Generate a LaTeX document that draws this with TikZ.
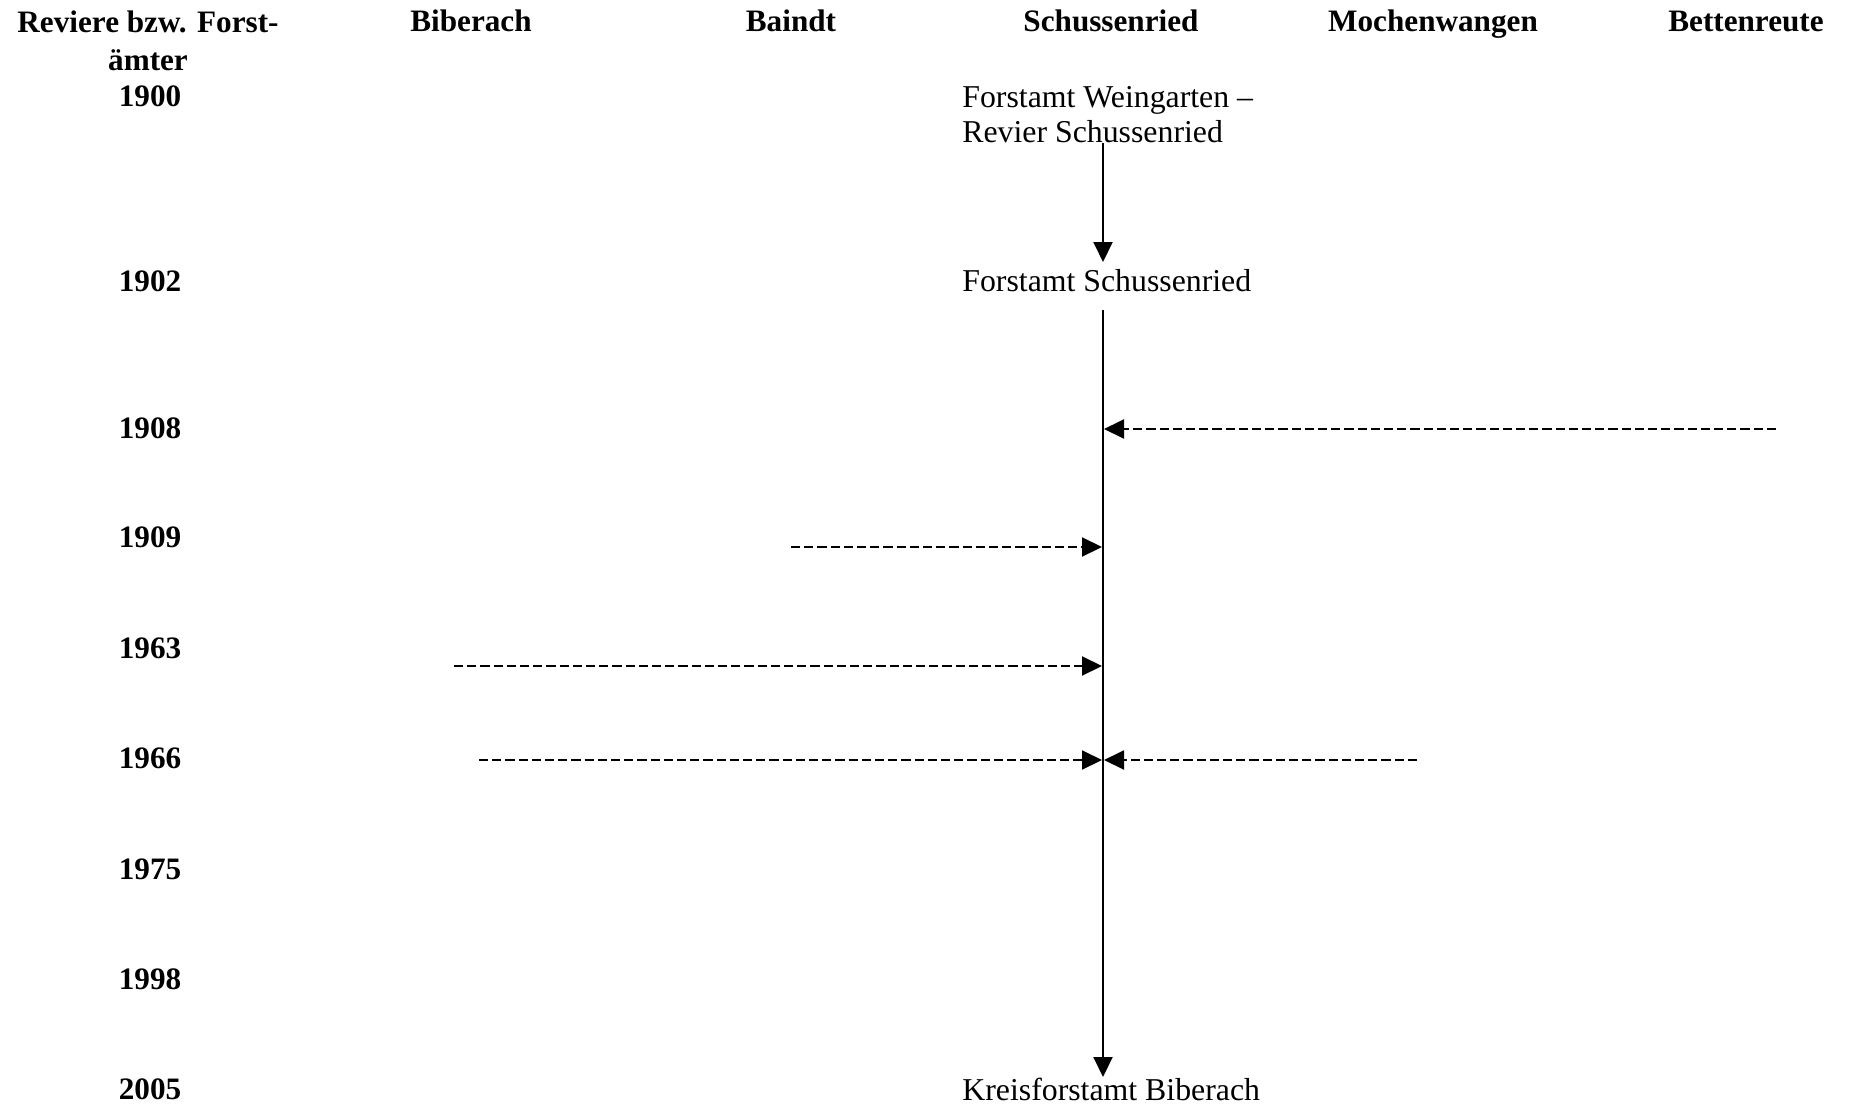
\documentclass[tikz,border=0pt]{standalone}
\usepackage{fontspec}
\setmainfont{Liberation Serif}
\usetikzlibrary{arrows.meta}
\begin{document}
\begin{tikzpicture}[x=0.5pt,y=-0.5pt,
  hdr/.style={font=\bfseries\fontsize{15.6}{19}\selectfont, inner sep=0pt, anchor=base, align=center},
  yr/.style={font=\bfseries\fontsize{15.6}{19}\selectfont, inner sep=0pt, anchor=base},
  lbl/.style={font=\fontsize{15.9}{17.5}\selectfont, inner sep=0pt, anchor=base west, align=left},
  solidarrow/.style={line width=1pt, -{Triangle[length=10pt,width=9.5pt]}},
  dasharrow/.style={line width=1pt, dash pattern=on 4.6pt off 2pt, -{Triangle[length=10pt,width=9.5pt]}}
]
\useasboundingbox (0,0) rectangle (1852,1108);
% column headers
\node[hdr] (h0) at (148,70) {Reviere bzw. Forst-\\ämter};
\node[hdr] (bib) at (471,32) {Biberach};
\node[hdr] (bai) at (791,32) {Baindt};
\node[hdr] (sch) at (1111,32) {Schussenried};
\node[hdr] (moc) at (1433,32) {Mochenwangen};
\node[hdr] (bet) at (1746,32) {Bettenreute};
% years
\node[yr] (y1900) at (150,106) {1900};
\node[yr] (y1902) at (150,291) {1902};
\node[yr] (y1908) at (150,438) {1908};
\node[yr] (y1909) at (150,547) {1909};
\node[yr] (y1963) at (150,658) {1963};
\node[yr] (y1966) at (150,768) {1966};
\node[yr] (y1975) at (150,879) {1975};
\node[yr] (y1998) at (150,989) {1998};
\node[yr] (y2005) at (150,1099) {2005};
% Schussenried labels
\node[lbl] (fw) at (962,142) {Forstamt Weingarten –\\Revier Schussenried};
\node[lbl] (fs) at (962,291) {Forstamt Schussenried};
\node[lbl] (kb) at (962,1100) {Kreisforstamt Biberach};
% points on the time line
\coordinate (v0) at (1103,143);
\coordinate (v1) at (1103,262);
\coordinate (v2) at (1103,310);
\coordinate (v3) at (1103,1077);
\coordinate (r1908) at (1104,429);
\coordinate (l1909) at (1102,547);
\coordinate (l1963) at (1102,666);
\coordinate (l1966) at (1102,760);
\coordinate (r1966) at (1104,760);
% sources
\coordinate (sBet) at (1776,429);
\coordinate (sBai) at (791,547);
\coordinate (sBib1) at (454,666);
\coordinate (sBib2) at (479,760);
\coordinate (sMoc) at (1417,760);
% connectors
\draw[solidarrow] (v0) -- (v1);
\draw[solidarrow] (v2) -- (v3);
\draw[dasharrow] (sBet) -- (r1908);
\draw[dasharrow] (sBai) -- (l1909);
\draw[dasharrow] (sBib1) -- (l1963);
\draw[dasharrow] (sBib2) -- (l1966);
\draw[dasharrow] (sMoc) -- (r1966);
\end{tikzpicture}
\end{document}
